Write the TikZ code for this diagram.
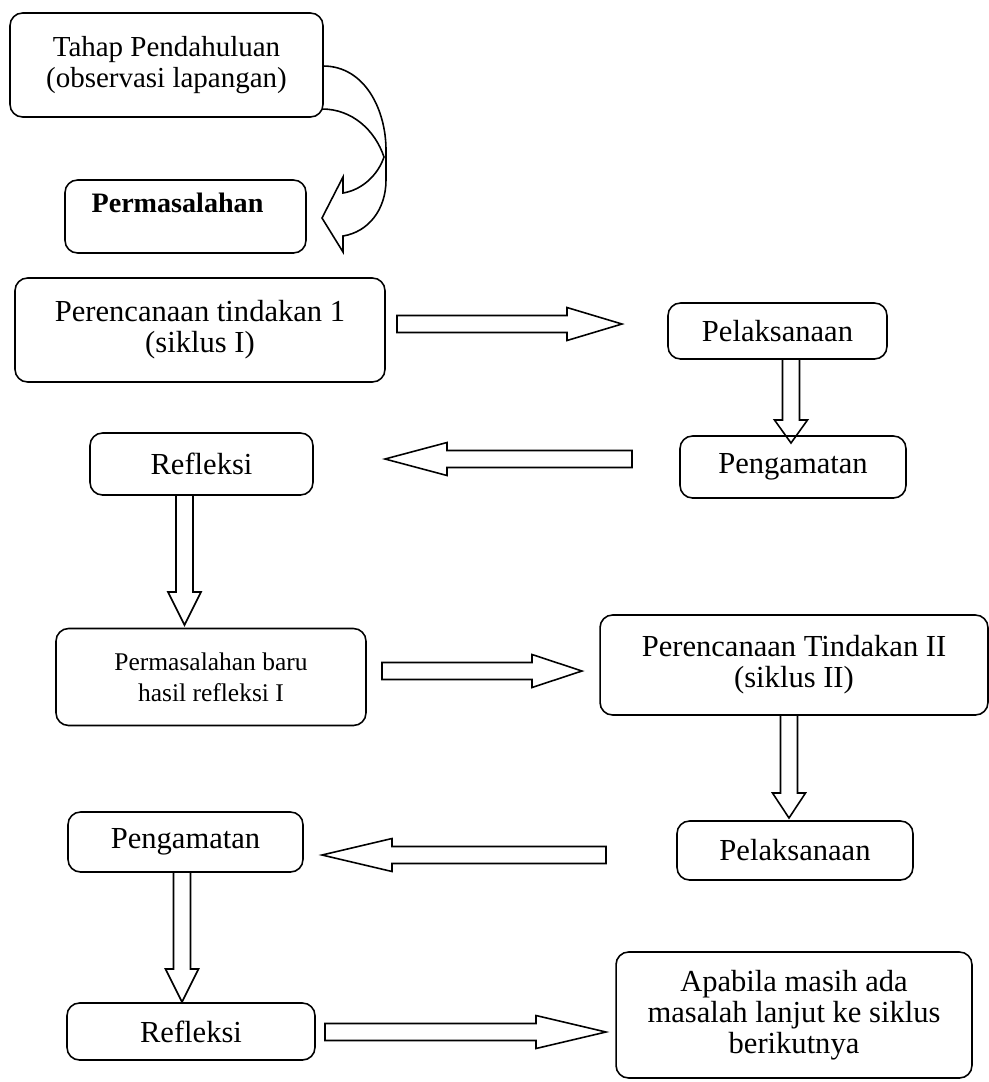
\documentclass[tikz,border=0pt]{standalone}
\usepackage{fontspec}
\setmainfont{Liberation Serif}
\usetikzlibrary{calc}

% hollow block arrow from #2 to #3, head length #1
\newcommand{\blockarrow}[3][1cm]{%
  \coordinate (headbase) at ($(#3)!#1!(#2)$);
  \draw[blockarr] ($(#2)!0.17cm!90:(#3)$) -- ($(headbase)!0.17cm!90:(#3)$)
    -- ($(headbase)!0.33cm!90:(#3)$) -- (#3) -- ($(headbase)!0.33cm!-90:(#3)$)
    -- ($(headbase)!0.17cm!-90:(#3)$) -- ($(#2)!0.17cm!-90:(#3)$) -- cycle;}

\begin{document}
\begin{tikzpicture}[x=0.02cm, y=-0.02cm]
 \tikzstyle{box}=[draw, rounded corners=0.25cm, align=center, inner sep=0pt, line width=0.9pt, font=\fontsize{17.4}{17.5}\selectfont]
 \tikzstyle{blockarr}=[draw, line width=0.9pt, line join=miter]
 \useasboundingbox (0,0) rectangle (988,1082);

 % curved arrow from the first box down to Permasalahan
 \draw[blockarr] (323,66) .. controls (365,66) and (386,110) .. (386,150) -- (386,180)
   .. controls (386,210) and (368,232) .. (343,236) -- (343,252) -- (322,218) -- (343,177) -- (343,193)
   .. controls (362,190) and (378,175) .. (384,157)
   .. controls (375,130) and (352,109) .. (322,109);

 % cycle I
 \node[box, minimum width=6.26cm, minimum height=2.08cm, font=\fontsize{16.5}{17.5}\selectfont] (pendahuluan) at (166.5,65) {Tahap Pendahuluan\\(observasi lapangan)};
 \node[box, minimum width=4.82cm, minimum height=1.46cm, text depth=0.55cm, font=\bfseries\fontsize{16}{17.5}\selectfont] (masalah) at (185.5,216.5) {Permasalahan\hspace*{0.32cm}};
 \node[box, minimum width=7.4cm, minimum height=2.08cm] (rencana1) at (200,330) {Perencanaan tindakan 1\\(siklus I)};
 \node[box, minimum width=4.38cm, minimum height=1.12cm] (laksana1) at (777.5,331) {Pelaksanaan};
 \node[box, minimum width=4.52cm, minimum height=1.24cm] (amat1) at (793,467) {Pengamatan};
 \node[box, minimum width=4.46cm, minimum height=1.24cm] (refleksi1) at (201.5,464) {Refleksi};

 % cycle II
 \node[box, minimum width=6.2cm, minimum height=1.94cm, font=\fontsize{14.5}{17.5}\selectfont] (masalahbaru) at (211,677) {Permasalahan baru\\hasil refleksi I};
 \node[box, minimum width=7.76cm, minimum height=2.0cm] (rencana2) at (794,665) {Perencanaan Tindakan II\\(siklus II)};
 \node[box, minimum width=4.72cm, minimum height=1.18cm] (laksana2) at (795,850.5) {Pelaksanaan};
 \node[box, minimum width=4.7cm, minimum height=1.2cm] (amat2) at (185.5,842) {Pengamatan};
 \node[box, minimum width=4.96cm, minimum height=1.14cm] (refleksi2) at (191,1031.5) {Refleksi};
 \node[box, minimum width=7.12cm, minimum height=2.52cm] (lanjut) at (794,1015) {Apabila masih ada\\masalah lanjut ke siklus\\berikutnya};

 % arrow ends
 \coordinate (r1s) at (397,324);   \coordinate (r1e) at (622,324);
 \coordinate (l1s) at (791,359);   \coordinate (l1e) at (791,443);
 \coordinate (a1s) at (632,459);   \coordinate (a1e) at (385,459);
 \coordinate (f1s) at (184.5,495); \coordinate (f1e) at (184.5,625);
 \coordinate (m2s) at (382,671);   \coordinate (m2e) at (582,671);
 \coordinate (r2s) at (789,715);   \coordinate (r2e) at (789,818);
 \coordinate (l2s) at (606,855);   \coordinate (l2e) at (322,855);
 \coordinate (a2s) at (182,872);   \coordinate (a2e) at (182,1002);
 \coordinate (f2s) at (325,1032);  \coordinate (f2e) at (606,1032);

 \blockarrow[1.1cm]{r1s}{r1e}
 \blockarrow[0.46cm]{l1s}{l1e}
 \blockarrow[1.24cm]{a1s}{a1e}
 \blockarrow[0.66cm]{f1s}{f1e}
 \blockarrow[1.0cm]{m2s}{m2e}
 \blockarrow[0.5cm]{r2s}{r2e}
 \blockarrow[1.4cm]{l2s}{l2e}
 \blockarrow[0.66cm]{a2s}{a2e}
 \blockarrow[1.4cm]{f2s}{f2e}
\end{tikzpicture}
\end{document}
